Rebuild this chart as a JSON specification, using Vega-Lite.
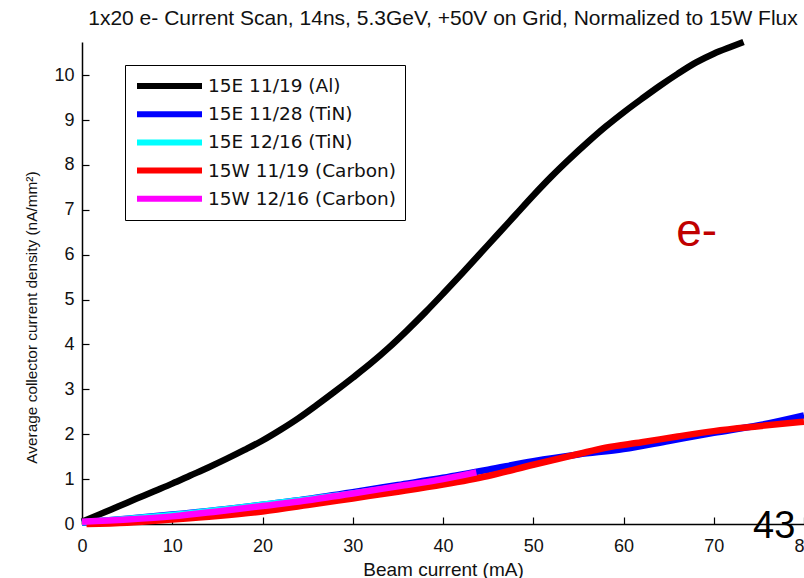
{
  "$schema": "https://vega.github.io/schema/vega-lite/v6.json",
  "autosize": "none",
  "width": 722,
  "height": 482,
  "padding": {"left": 82, "top": 42, "right": 0, "bottom": 54},
  "background": "white",
  "config": {
    "view": {"stroke": null},
    "font": "Liberation Sans",
    "axis": {
      "grid": false,
      "domainColor": "#000000",
      "domainWidth": 1.5,
      "tickColor": "#000000",
      "tickWidth": 1.2,
      "tickSize": -7,
      "labelColor": "#111111",
      "labelFont": "Liberation Sans",
      "labelFontSize": 18,
      "titleColor": "#111111",
      "titleFont": "Liberation Sans",
      "titleFontWeight": "normal",
      "titleFontSize": 19
    }
  },
  "title": {
    "text": "1x20 e- Current Scan, 14ns, 5.3GeV, +50V on Grid, Normalized to 15W Flux",
    "font": "Liberation Sans",
    "fontSize": 21,
    "fontWeight": "normal",
    "color": "#111111",
    "anchor": "middle",
    "offset": 10
  },
  "datasets": {
    "curves": [
      {"s": "15E 11/19 (Al)", "current": 0, "density": 0.05},
      {"s": "15E 11/19 (Al)", "current": 2, "density": 0.22},
      {"s": "15E 11/19 (Al)", "current": 4, "density": 0.39},
      {"s": "15E 11/19 (Al)", "current": 6, "density": 0.56},
      {"s": "15E 11/19 (Al)", "current": 8, "density": 0.73},
      {"s": "15E 11/19 (Al)", "current": 10, "density": 0.9},
      {"s": "15E 11/19 (Al)", "current": 12, "density": 1.08},
      {"s": "15E 11/19 (Al)", "current": 14, "density": 1.26},
      {"s": "15E 11/19 (Al)", "current": 16, "density": 1.45},
      {"s": "15E 11/19 (Al)", "current": 18, "density": 1.65},
      {"s": "15E 11/19 (Al)", "current": 20, "density": 1.86},
      {"s": "15E 11/19 (Al)", "current": 22, "density": 2.1},
      {"s": "15E 11/19 (Al)", "current": 24, "density": 2.36},
      {"s": "15E 11/19 (Al)", "current": 26, "density": 2.65},
      {"s": "15E 11/19 (Al)", "current": 28, "density": 2.95},
      {"s": "15E 11/19 (Al)", "current": 30, "density": 3.26},
      {"s": "15E 11/19 (Al)", "current": 32, "density": 3.58},
      {"s": "15E 11/19 (Al)", "current": 34, "density": 3.93},
      {"s": "15E 11/19 (Al)", "current": 36, "density": 4.31},
      {"s": "15E 11/19 (Al)", "current": 38, "density": 4.71},
      {"s": "15E 11/19 (Al)", "current": 40, "density": 5.13},
      {"s": "15E 11/19 (Al)", "current": 42, "density": 5.56},
      {"s": "15E 11/19 (Al)", "current": 44, "density": 6.0},
      {"s": "15E 11/19 (Al)", "current": 46, "density": 6.44},
      {"s": "15E 11/19 (Al)", "current": 48, "density": 6.88},
      {"s": "15E 11/19 (Al)", "current": 50, "density": 7.32},
      {"s": "15E 11/19 (Al)", "current": 52, "density": 7.74},
      {"s": "15E 11/19 (Al)", "current": 54, "density": 8.13},
      {"s": "15E 11/19 (Al)", "current": 56, "density": 8.5},
      {"s": "15E 11/19 (Al)", "current": 58, "density": 8.85},
      {"s": "15E 11/19 (Al)", "current": 60, "density": 9.17},
      {"s": "15E 11/19 (Al)", "current": 62, "density": 9.47},
      {"s": "15E 11/19 (Al)", "current": 64, "density": 9.76},
      {"s": "15E 11/19 (Al)", "current": 66, "density": 10.03},
      {"s": "15E 11/19 (Al)", "current": 68, "density": 10.28},
      {"s": "15E 11/19 (Al)", "current": 70, "density": 10.48},
      {"s": "15E 11/19 (Al)", "current": 72, "density": 10.64},
      {"s": "15E 11/19 (Al)", "current": 73.3, "density": 10.74},

      {"s": "15E 11/28 (TiN)", "current": 0, "density": 0.03},
      {"s": "15E 11/28 (TiN)", "current": 5, "density": 0.12},
      {"s": "15E 11/28 (TiN)", "current": 10, "density": 0.21},
      {"s": "15E 11/28 (TiN)", "current": 15, "density": 0.31},
      {"s": "15E 11/28 (TiN)", "current": 20, "density": 0.43},
      {"s": "15E 11/28 (TiN)", "current": 25, "density": 0.56},
      {"s": "15E 11/28 (TiN)", "current": 30, "density": 0.71},
      {"s": "15E 11/28 (TiN)", "current": 35, "density": 0.87},
      {"s": "15E 11/28 (TiN)", "current": 40, "density": 1.03},
      {"s": "15E 11/28 (TiN)", "current": 45, "density": 1.21},
      {"s": "15E 11/28 (TiN)", "current": 50, "density": 1.4},
      {"s": "15E 11/28 (TiN)", "current": 55, "density": 1.55},
      {"s": "15E 11/28 (TiN)", "current": 60, "density": 1.67},
      {"s": "15E 11/28 (TiN)", "current": 65, "density": 1.85},
      {"s": "15E 11/28 (TiN)", "current": 70, "density": 2.03},
      {"s": "15E 11/28 (TiN)", "current": 75, "density": 2.2},
      {"s": "15E 11/28 (TiN)", "current": 80, "density": 2.42},

      {"s": "15E 12/16 (TiN)", "current": 0, "density": 0.04},
      {"s": "15E 12/16 (TiN)", "current": 10, "density": 0.2},
      {"s": "15E 12/16 (TiN)", "current": 20, "density": 0.43},
      {"s": "15E 12/16 (TiN)", "current": 30, "density": 0.68},
      {"s": "15E 12/16 (TiN)", "current": 40, "density": 0.98},
      {"s": "15E 12/16 (TiN)", "current": 43.5, "density": 1.1},

      {"s": "15W 11/19 (Carbon)", "current": 0.5, "density": 0.0},
      {"s": "15W 11/19 (Carbon)", "current": 5, "density": 0.03},
      {"s": "15W 11/19 (Carbon)", "current": 10, "density": 0.1},
      {"s": "15W 11/19 (Carbon)", "current": 15, "density": 0.18},
      {"s": "15W 11/19 (Carbon)", "current": 20, "density": 0.28},
      {"s": "15W 11/19 (Carbon)", "current": 25, "density": 0.42},
      {"s": "15W 11/19 (Carbon)", "current": 30, "density": 0.57},
      {"s": "15W 11/19 (Carbon)", "current": 35, "density": 0.72},
      {"s": "15W 11/19 (Carbon)", "current": 40, "density": 0.88},
      {"s": "15W 11/19 (Carbon)", "current": 45, "density": 1.07},
      {"s": "15W 11/19 (Carbon)", "current": 50, "density": 1.32},
      {"s": "15W 11/19 (Carbon)", "current": 55, "density": 1.56},
      {"s": "15W 11/19 (Carbon)", "current": 58, "density": 1.7},
      {"s": "15W 11/19 (Carbon)", "current": 62, "density": 1.82},
      {"s": "15W 11/19 (Carbon)", "current": 66, "density": 1.95},
      {"s": "15W 11/19 (Carbon)", "current": 70, "density": 2.07},
      {"s": "15W 11/19 (Carbon)", "current": 75, "density": 2.18},
      {"s": "15W 11/19 (Carbon)", "current": 80, "density": 2.28},

      {"s": "15W 12/16 (Carbon)", "current": 0, "density": 0.05},
      {"s": "15W 12/16 (Carbon)", "current": 5, "density": 0.1},
      {"s": "15W 12/16 (Carbon)", "current": 10, "density": 0.17},
      {"s": "15W 12/16 (Carbon)", "current": 15, "density": 0.28},
      {"s": "15W 12/16 (Carbon)", "current": 20, "density": 0.4},
      {"s": "15W 12/16 (Carbon)", "current": 25, "density": 0.53},
      {"s": "15W 12/16 (Carbon)", "current": 30, "density": 0.68},
      {"s": "15W 12/16 (Carbon)", "current": 35, "density": 0.84},
      {"s": "15W 12/16 (Carbon)", "current": 40, "density": 1.0},
      {"s": "15W 12/16 (Carbon)", "current": 43.7, "density": 1.15}
    ],
    "eminus": [{"current": 68.1, "density": 6.51, "label": "e-"}],
    "slide": [{"current": 76.7, "density": -0.07, "label": "43"}]
  },
  "layer": [
    {
      "data": {"name": "curves"},
      "mark": {"type": "line", "strokeWidth": 6.5, "strokeCap": "butt", "strokeJoin": "round", "interpolate": "monotone", "clip": false},
      "encoding": {
        "x": {
          "field": "current", "type": "quantitative",
          "scale": {"domain": [0, 80], "nice": false, "zero": false},
          "axis": {"title": "Beam current (mA)", "values": [0, 10, 20, 30, 40, 50, 60, 70, 80], "labelPadding": 20, "titlePadding": 5, "labelFlush": false}
        },
        "y": {
          "field": "density", "type": "quantitative",
          "scale": {"domain": [0, 10.74], "nice": false},
          "axis": {"title": "Average collector current density (nA/mm²)", "values": [0, 1, 2, 3, 4, 5, 6, 7, 8, 9, 10], "labelPadding": 15, "titlePadding": 14, "titleFontSize": 15.4, "titleY": 275}
        },
        "color": {
          "field": "s", "type": "nominal",
          "scale": {
            "domain": ["15E 11/19 (Al)", "15E 11/28 (TiN)", "15E 12/16 (TiN)", "15W 11/19 (Carbon)", "15W 12/16 (Carbon)"],
            "range": ["#000000", "#0000ff", "#00ffff", "#ff0000", "#ff00ff"]
          },
          "legend": {
            "title": null,
            "orient": "none",
            "legendX": 43,
            "legendY": 23,
            "symbolType": "stroke",
            "symbolSize": 4225,
            "symbolStrokeWidth": 6,
            "clipHeight": 24,
            "labelFont": "DejaVu Sans",
            "labelFontSize": 18.5,
            "labelLimit": 400,
            "labelColor": "#111111",
            "labelOffset": 3,
            "rowPadding": 4.2,
            "padding": 9,
            "strokeColor": "#000000",
            "fillColor": "#ffffff",
            "cornerRadius": 0
          }
        }
      }
    },
    {
      "data": {"name": "eminus"},
      "mark": {"type": "text", "font": "Liberation Sans", "fontSize": 46, "color": "#c00000", "baseline": "middle", "align": "center"},
      "encoding": {
        "x": {"field": "current", "type": "quantitative"},
        "y": {"field": "density", "type": "quantitative"},
        "text": {"field": "label"}
      }
    },
    {
      "data": {"name": "slide"},
      "mark": {"type": "text", "font": "Liberation Sans", "fontSize": 38, "color": "#000000", "baseline": "middle", "align": "center"},
      "encoding": {
        "x": {"field": "current", "type": "quantitative"},
        "y": {"field": "density", "type": "quantitative"},
        "text": {"field": "label"}
      }
    }
  ]
}
